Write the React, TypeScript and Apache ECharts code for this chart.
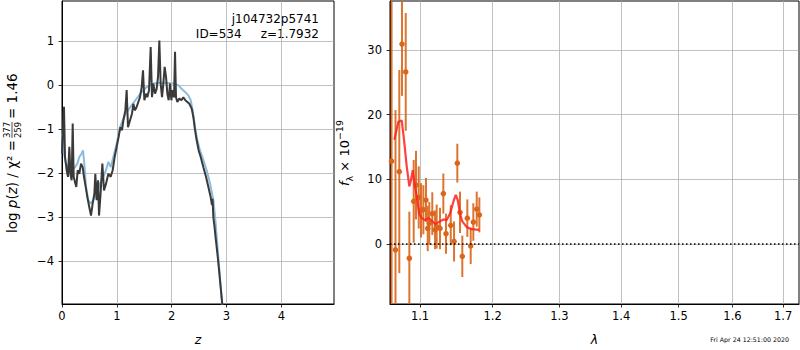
import React, { useEffect, useRef } from "react";
import * as echarts from "echarts";

// ---------- left panel: log p(z) ----------
const zDark = [
  0.0, 0.036, 0.055, 0.085, 0.109, 0.134, 0.152, 0.176, 0.195, 0.213,
  0.237, 0.261, 0.286, 0.316, 0.347, 0.377, 0.401, 0.432, 0.462, 0.498,
  0.529, 0.559, 0.59, 0.608, 0.632, 0.657, 0.675, 0.699, 0.736, 0.766,
  0.802, 0.845, 0.888, 0.924, 0.96, 0.997, 1.033, 1.064, 1.094, 1.119,
  1.155, 1.179, 1.204, 1.24, 1.277, 1.301, 1.331, 1.362, 1.392, 1.422,
  1.453, 1.477, 1.502, 1.532, 1.556, 1.587, 1.617, 1.641, 1.666, 1.696,
  1.726, 1.751, 1.775, 1.799, 1.824, 1.848, 1.872, 1.897, 1.921, 1.945,
  1.97, 1.994, 2.018, 2.043, 2.061, 2.079, 2.103, 2.14, 2.176, 2.213,
  2.249, 2.286, 2.322, 2.365, 2.395, 2.426, 2.456, 2.492, 2.529, 2.578,
  2.626, 2.669, 2.711, 2.735, 2.745, 2.76, 2.78, 2.8, 2.82, 2.84,
  2.86, 2.89, 2.925, 2.94,
];
const pzDark = [
  -1.55, -0.49, -1.63, -1.93, -2.08, -1.4, -2.01, -2.16, -0.87, -2.08,
  -2.2, -2.31, -1.93, -2.01, -1.78, -1.86, -2.08, -2.31, -2.54, -2.77,
  -2.96, -2.69, -2.46, -2.01, -2.61, -2.16, -2.96, -2.54, -1.78, -2.39,
  -2.24, -2.01, -2.08, -1.93, -1.63, -1.4, -1.17, -0.95, -1.02, -0.8,
  -0.57, -0.11, -0.95, -0.8, -0.64, -0.42, -0.57, -0.49, -0.38, -0.27,
  -0.04, 0.34, -0.34, -0.19, -0.27, -0.11, 0.87, -0.27, 0.04, -0.19,
  -0.08, 0.19, 1.02, 0.04, -0.27, 0.04, 0.42, 0.19, -0.19, -0.34,
  0.04, -0.34, -0.11, -0.27, 0.76, -0.27, -0.38, -0.3, -0.34, -0.27,
  -0.34, -0.38, -0.42, -0.53, -0.72, -1.02, -1.25, -1.48, -1.63, -1.86,
  -2.08, -2.31, -2.54, -2.72, -2.58, -3.0, -3.2, -3.45, -3.67, -3.9,
  -4.15, -4.55, -5.0, -5.3,
];
const zBlue = [
  0.0, 0.036, 0.073, 0.116, 0.176, 0.237, 0.28, 0.316, 0.359, 0.383,
  0.407, 0.438, 0.48, 0.523, 0.571, 0.632, 0.693, 0.754, 0.802, 0.845,
  0.888, 0.936, 0.997, 1.058, 1.119, 1.179, 1.271, 1.362, 1.453, 1.544,
  1.666, 1.787, 1.909, 2.03, 2.122, 2.182, 2.243, 2.304, 2.347, 2.383,
  2.426, 2.468, 2.517, 2.578, 2.638, 2.699, 2.76, 2.8, 2.85, 2.89,
  2.935,
];
const pzBlue = [
  -1.1, -1.55, -1.78, -1.86, -1.93, -1.86, -1.78, -1.63, -1.55, -1.48,
  -1.78, -2.31, -2.61, -2.69, -2.61, -2.46, -2.23, -2.08, -1.93, -1.74,
  -1.86, -1.63, -1.33, -0.95, -0.76, -0.61, -0.45, -0.3, -0.15, -0.04,
  0.04, 0.06, 0.05, 0.04, 0.0, -0.08, -0.15, -0.23, -0.34, -0.57,
  -0.95, -1.25, -1.48, -1.7, -1.93, -2.23, -2.61, -3.1, -3.9, -4.5,
  -5.2,
];
const zTicks = [0, 1, 2, 3, 4];
const pzTicks = [-4, -3, -2, -1, 0, 1];

// ---------- right panel: spectrum ----------
const specWave = [
  1.0631, 1.0681, 1.073, 1.0765, 1.0813, 1.086, 1.0917, 1.0947, 1.0983, 1.1013,
  1.1044, 1.1079, 1.1102, 1.1123, 1.1163, 1.12, 1.1222, 1.1267, 1.1312, 1.1348,
  1.1413, 1.1458, 1.1503, 1.154, 1.1572, 1.1642, 1.1689, 1.1726, 1.1774, 1.1811,
];
const specFlux = [
  12.8, -0.9, 11.2, 30.9, 26.6, -2.2, 6.6, 9.1, 7.2, 5.2,
  5.3, 6.8, 2.4, 3.2, 4.7, 2.2, 2.7, 2.4, 7.8, 1.6,
  2.9, 0.4, 12.5, 4.9, -1.9, 4.0, -0.3, 3.4, 5.4, 4.5,
];
const specErr = [
  50, 21.6, 15.7, 8.0, 9.1, 7.2, 6.4, 5.3, 4.8, 4.2,
  3.8, 3.4, 3.5, 3.3, 3.3, 3.0, 3.4, 3.2, 3.1, 3.1,
  3.1, 3.1, 3.0, 3.2, 3.2, 2.9, 2.8, 2.9, 2.7, 2.7,
];
const modelWave = [
  1.0666, 1.0718, 1.0761, 1.0791, 1.0826, 1.086, 1.0882, 1.0904, 1.0934, 1.0964,
  1.0987, 1.1022, 1.1066, 1.111, 1.1155, 1.12, 1.1267, 1.1312, 1.1358, 1.1403,
  1.1448, 1.1481, 1.1509, 1.154, 1.1572, 1.1634, 1.1703, 1.1811,
];
const modelFlux = [
  16.1, 18.9, 19.1, 16.1, 12.0, 8.9, 9.9, 11.4, 8.9, 6.8,
  4.7, 4.0, 3.7, 4.0, 3.6, 3.1, 3.5, 3.8, 3.7, 4.7,
  6.5, 7.6, 6.8, 4.7, 3.5, 2.6, 2.3, 2.2,
];
const waveTicks = [1.1, 1.2, 1.3, 1.4, 1.5, 1.6, 1.7];
const fluxTicks = [0, 10, 20, 30];

const FONT = "DejaVu Sans";
const ORANGE = "#d9661a";
const fmtMinus = (v: number) => String(v).replace("-", "\u2212");

export default function App() {
  const ref = useRef<HTMLDivElement>(null);
  useEffect(() => {
    if (!ref.current) return;
    const chart = echarts.init(ref.current, undefined, { renderer: "svg" });
    const pzMin = -4.97, pzMax = 1.916;
    const fMin = -9.27, fMax = 37.56;
    const wMin = 1.0611, wMax = 1.7328;

    const axisCommon = {
      axisLine: { show: true, onZero: false, lineStyle: { color: "#000", width: 1 } },
      splitLine: { show: true, lineStyle: { color: "#b0b0b0", width: 0.8 } },
    };
    const labelStyle = { color: "#000", fontSize: 11.5, fontFamily: FONT };
    const tick = (vals: number[]) => ({
      show: true, length: 3.5, customValues: vals, lineStyle: { color: "#000", width: 0.8 },
    });

    const option: any = {
      animation: false,
      grid: [
        { left: 62, top: 1, width: 272, height: 303, show: true, borderColor: "#000", borderWidth: 1, backgroundColor: "transparent", containLabel: false, outerBoundsMode: "none" },
        { left: 390, top: 1, width: 409, height: 303, show: true, borderColor: "#000", borderWidth: 1, backgroundColor: "transparent", containLabel: false, outerBoundsMode: "none" },
      ],
      xAxis: [
        {
          gridIndex: 0, type: "value", min: 0, max: 4.96, ...axisCommon,
          axisTick: tick(zTicks),
          axisLabel: { ...labelStyle, margin: 6, customValues: zTicks, formatter: fmtMinus },
          name: "z", nameLocation: "middle", nameGap: 29,
          nameTextStyle: { color: "#000", fontSize: 12.5, fontFamily: FONT, fontStyle: "italic" },
        },
        {
          gridIndex: 1, type: "value", min: Math.log(wMin), max: Math.log(wMax), ...axisCommon,
          axisTick: tick(waveTicks.map(Math.log)),
          axisLabel: { ...labelStyle, margin: 6, customValues: waveTicks.map(Math.log), formatter: (v: number) => Math.exp(v).toFixed(1) },
          name: "λ", nameLocation: "middle", nameGap: 29,
          nameTextStyle: { color: "#000", fontSize: 12.5, fontFamily: FONT, fontStyle: "italic" },
        },
      ],
      yAxis: [
        {
          gridIndex: 0, type: "value", min: pzMin, max: pzMax, ...axisCommon,
          axisTick: tick(pzTicks),
          axisLabel: { ...labelStyle, margin: 8, customValues: pzTicks, formatter: fmtMinus },
        },
        {
          gridIndex: 1, type: "value", min: fMin, max: fMax, ...axisCommon,
          axisTick: tick(fluxTicks),
          axisLabel: { ...labelStyle, margin: 8, customValues: fluxTicks, formatter: fmtMinus },
        },
      ],
      series: [
        {
          type: "line", xAxisIndex: 0, yAxisIndex: 0, showSymbol: false, symbol: "none",
          data: zBlue.map((z, i) => [z, pzBlue[i]]),
          lineStyle: { color: "#8dbbdc", width: 2 }, clip: true,
        },
        {
          type: "line", xAxisIndex: 0, yAxisIndex: 0, showSymbol: false, symbol: "none",
          data: zDark.map((z, i) => [z, pzDark[i]]),
          lineStyle: { color: "#3a3a3a", width: 2 }, clip: true,
        },
        {
          type: "custom", xAxisIndex: 1, yAxisIndex: 1, clip: true,
          encode: { x: 0, y: 1 },
          data: specWave.map((w, i) => [Math.log(w), specFlux[i], specErr[i]]),
          renderItem: (params: any, api: any) => {
            const x = api.value(0), y = api.value(1), e = api.value(2);
            const lo = Math.max(y - e, fMin), hi = Math.min(y + e, fMax);
            const p1 = api.coord([x, lo]);
            const p2 = api.coord([x, hi]);
            return {
              type: "line",
              shape: { x1: p1[0], y1: p1[1], x2: p2[0], y2: p2[1] },
              style: { stroke: ORANGE, lineWidth: 2, opacity: 0.9 },
            };
          },
          markLine: {
            silent: true, symbol: "none", label: { show: false },
            lineStyle: { color: "#000", type: [1.5, 2.5], width: 1.5, opacity: 1 },
            data: [{ yAxis: 0 }],
          },
        },
        {
          type: "scatter", xAxisIndex: 1, yAxisIndex: 1, symbolSize: 5.5,
          data: specWave.map((w, i) => [Math.log(w), specFlux[i]]),
          itemStyle: { color: ORANGE, opacity: 1 }, clip: true,
        },
        {
          type: "line", xAxisIndex: 1, yAxisIndex: 1, showSymbol: false, symbol: "none",
          data: modelWave.map((w, i) => [Math.log(w), modelFlux[i]]),
          lineStyle: { color: "#ff2020", width: 2.2, opacity: 0.85 }, clip: true,
        },
      ],
      graphic: [
        {
          type: "text", x: 319, y: 19,
          style: { text: "j104732p5741", fontSize: 12, fontFamily: FONT, fill: "#000", align: "right", verticalAlign: "middle" },
        },
        {
          type: "text", x: 319, y: 34,
          style: { text: "ID=534     z=1.7932", fontSize: 12, fontFamily: FONT, fill: "#000", align: "right", verticalAlign: "middle" },
        },
        {
          type: "text", x: 789, y: 339,
          style: { text: "Fri Apr 24 12:51:00 2020", fontSize: 6.3, fontFamily: FONT, fill: "#000", align: "right", verticalAlign: "middle" },
        },
        {
          type: "text", x: 344, y: 153, rotation: Math.PI / 2,
          style: {
            text: "{f|f}{s|λ}{t| × 10}{p|−19}",
            align: "center", verticalAlign: "middle", fill: "#000", fontFamily: FONT,
            rich: {
              f: { fontSize: 13, fontStyle: "italic", fontFamily: FONT, lineHeight: 20 },
              s: { fontSize: 9.5, fontFamily: FONT, verticalAlign: "bottom", lineHeight: 13 },
              t: { fontSize: 13, fontFamily: FONT, lineHeight: 20 },
              p: { fontSize: 9.5, fontFamily: FONT, verticalAlign: "top", lineHeight: 13 },
            },
          },
        },
        {
          type: "group", x: 12, y: 152, rotation: Math.PI / 2,
          children: [
            {
              type: "text", x: 12, y: 0,
              style: {
                text: "{n|log }{i|p}{n|(}{i|z}{n|) / χ² =}",
                align: "right", verticalAlign: "middle", fill: "#000", fontFamily: FONT,
                rich: {
                  n: { fontSize: 13.5, fontFamily: FONT },
                  i: { fontSize: 13.5, fontFamily: FONT, fontStyle: "italic" },
                },
              },
            },
            {
              type: "text", x: 22, y: -5.5,
              style: { text: "377", fontSize: 8.5, fontFamily: FONT, fill: "#000", align: "center", verticalAlign: "middle" },
            },
            {
              type: "line", shape: { x1: 14, y1: 0, x2: 30, y2: 0 },
              style: { stroke: "#000", lineWidth: 0.7 },
            },
            {
              type: "text", x: 22, y: 5.5,
              style: { text: "259", fontSize: 8.5, fontFamily: FONT, fill: "#000", align: "center", verticalAlign: "middle" },
            },
            {
              type: "text", x: 33, y: 0,
              style: { text: "= 1.46", fontSize: 13.5, fontFamily: FONT, fill: "#000", align: "left", verticalAlign: "middle" },
            },
          ],
        },
      ],
    };
    chart.setOption(option);
    return () => chart.dispose();
  }, []);
  return (
    <div
      ref={ref}
      style={{ position: "absolute", left: 0, top: 0, width: 800, height: 350, background: "#fff" }}
    />
  );
}
